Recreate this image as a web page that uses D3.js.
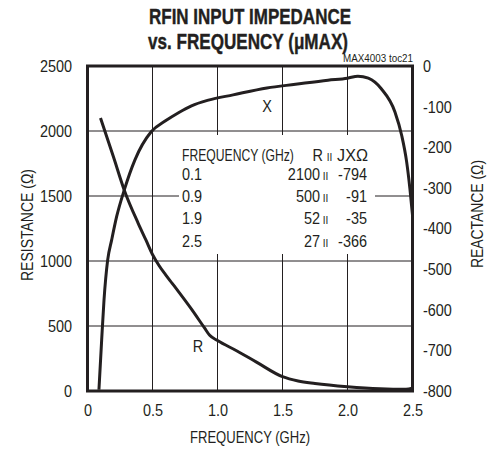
<!DOCTYPE html>
<html>
<head>
<meta charset="utf-8">
<script src="https://cdn.jsdelivr.net/npm/d3@7/dist/d3.min.js"></script>
<style>
  html, body { margin: 0; padding: 0; background: #fff; }
  svg { display: block; }
  text { font-family: "Liberation Sans", Arial, sans-serif; fill: #231f20; }
</style>
</head>
<body>
<svg id="chart" width="498" height="452"></svg>
<script>
// ---- data ----
const freqTicks = [0, 0.5, 1.0, 1.5, 2.0, 2.5];
const freqTickLabels = ["0", "0.5", "1.0", "1.5", "2.0", "2.5"];
const resistanceTicks = [0, 500, 1000, 1500, 2000, 2500];
const reactanceTicks = [0, -100, -200, -300, -400, -500, -600, -700, -800];

const rFreq = [0.1, 0.15, 0.2, 0.283, 0.39, 0.45, 0.5, 0.55, 0.6, 0.65, 0.7, 0.8, 0.9, 0.94, 1.0, 1.15, 1.3, 1.5, 1.62, 1.75, 2.0, 2.25, 2.45, 2.5];
const rValues = [2100, 1950, 1800, 1545, 1290, 1160, 1050, 965, 895, 830, 765, 630, 485, 428, 388, 308, 222, 110, 77, 58, 33, 17, 13, 22];

const xFreq = [0.088, 0.109, 0.127, 0.155, 0.186, 0.224, 0.283, 0.365, 0.49, 0.6, 0.7, 0.8, 0.93, 1.12, 1.38, 1.6, 1.85, 2.0, 2.08, 2.16, 2.26, 2.365, 2.417, 2.455, 2.48, 2.5];
const xValues = [-797, -674, -576, -478, -428, -371, -305, -231, -162, -135, -115, -98, -84, -71, -54, -45, -35, -30, -25, -30, -56, -113, -171, -236, -302, -367];

const tableFreq = ["0.1", "0.9", "1.9", "2.5"];
const tableR = ["2100", "500", "52", "27"];
const tableX = ["-794", "-91", "-35", "-366"];

// ---- layout ----
const svg = d3.select("#chart");
const L = 87.5, R = 412.5, T = 66, B = 391;
const ink = "#231f20";
const fs = 17, K = 0.85;

function condense(sel, k) {
  sel.each(function () {
    const t = d3.select(this);
    const xx = +t.attr("x") || 0;
    t.attr("transform", `translate(${xx},0) scale(${k},1) translate(${-xx},0)`);
  });
  return sel;
}

const x = d3.scaleLinear().domain([0, 2.5]).range([L, R]);
const yR = d3.scaleLinear().domain([0, 2500]).range([B, T]);
const yX = d3.scaleLinear().domain([-800, 0]).range([B, T]);

// grid
const grid = svg.append("g").attr("stroke", ink).attr("stroke-width", 1);
grid.selectAll("line.v").data(freqTicks.slice(1, -1)).join("line")
  .attr("x1", d => x(d)).attr("x2", d => x(d)).attr("y1", T).attr("y2", B);
grid.selectAll("line.h").data(resistanceTicks.slice(1, -1)).join("line")
  .attr("x1", L).attr("x2", R).attr("y1", d => yR(d)).attr("y2", d => yR(d));

// table background
svg.append("rect").attr("x", 179).attr("y", 135).attr("width", 196).attr("height", 119).attr("fill", "#fff");

// axes
const axL = svg.append("g").attr("transform", `translate(${L},0)`)
  .call(d3.axisLeft(yR).tickValues(resistanceTicks).tickSize(0).tickPadding(15.5).tickFormat(d3.format("d")));
const axR = svg.append("g").attr("transform", `translate(${R},0)`)
  .call(d3.axisRight(yX).tickValues(reactanceTicks).tickSize(0).tickPadding(10.5).tickFormat(d => String(d)));
const axB = svg.append("g").attr("transform", `translate(0,${B})`)
  .call(d3.axisBottom(x).tickValues(freqTicks).tickSize(0).tickPadding(13).tickFormat((d, i) => freqTickLabels[i]));
[axL, axR, axB].forEach(a => {
  a.select(".domain").remove();
  a.selectAll("text").attr("font-size", fs).attr("fill", ink)
    .style("font-family", '"Liberation Sans", Arial, sans-serif');
  condense(a.selectAll("text"), K);
});

// axis titles
svg.append("text").attr("x", 250).attr("y", 443).attr("text-anchor", "middle").attr("font-size", fs)
  .attr("textLength", 120).attr("lengthAdjust", "spacingAndGlyphs").text("FREQUENCY (GHz)");
svg.append("text").attr("transform", "translate(33,225) rotate(-90)").attr("text-anchor", "middle").attr("font-size", fs)
  .attr("textLength", 112).attr("lengthAdjust", "spacingAndGlyphs").text("RESISTANCE (Ω)");
svg.append("text").attr("transform", "translate(483,214) rotate(-90)").attr("text-anchor", "middle").attr("font-size", fs)
  .attr("textLength", 108).attr("lengthAdjust", "spacingAndGlyphs").text("REACTANCE (Ω)");

// title
svg.append("text").attr("x", 250).attr("y", 24).attr("text-anchor", "middle").attr("font-size", 22).attr("font-weight", "bold")
  .attr("stroke", ink).attr("stroke-width", 0.4)
  .attr("textLength", 202).attr("lengthAdjust", "spacingAndGlyphs").text("RFIN INPUT IMPEDANCE");
svg.append("text").attr("x", 248).attr("y", 49).attr("text-anchor", "middle").attr("font-size", 22).attr("font-weight", "bold")
  .attr("stroke", ink).attr("stroke-width", 0.4)
  .attr("textLength", 200).attr("lengthAdjust", "spacingAndGlyphs").text("vs. FREQUENCY (μMAX)");
svg.append("text").attr("x", 413).attr("y", 62).attr("text-anchor", "end").attr("font-size", 10)
  .attr("textLength", 70).attr("lengthAdjust", "spacingAndGlyphs").text("MAX4003 toc21");

// table
const tbl = svg.append("g").attr("font-size", fs);
condense(tbl.append("text").attr("x", 182).attr("y", 161).attr("font-size", 16).text("FREQUENCY (GHz)"), 0.76);
condense(tbl.append("text").attr("x", 323).attr("y", 161).attr("text-anchor", "end").text("R"), K);
tbl.append("text").attr("x", 329.5).attr("y", 161).attr("text-anchor", "middle").attr("font-size", 10).text("II");
condense(tbl.append("text").attr("x", 368).attr("y", 161).attr("text-anchor", "end").text("JXΩ"), 0.95);
const rowY = i => 180 + i * 22.2;
condense(tbl.selectAll("text.f").data(tableFreq).join("text").attr("class", "f")
  .attr("x", 182).attr("y", (d, i) => rowY(i)).text(d => d), K);
condense(tbl.selectAll("text.r").data(tableR).join("text").attr("class", "r")
  .attr("x", 320).attr("y", (d, i) => rowY(i)).attr("text-anchor", "end").text(d => d), K);
tbl.selectAll("text.p").data(tableR).join("text").attr("class", "p")
  .attr("x", 325.5).attr("y", (d, i) => rowY(i)).attr("text-anchor", "middle").attr("font-size", 10).text("II");
condense(tbl.selectAll("text.xv").data(tableX).join("text").attr("class", "xv")
  .attr("x", 367).attr("y", (d, i) => rowY(i)).attr("text-anchor", "end").text(d => d), K);

// curve labels
condense(svg.append("text").attr("x", 267).attr("y", 112).attr("text-anchor", "middle").attr("font-size", fs).text("X"), K);
condense(svg.append("text").attr("x", 198).attr("y", 352).attr("text-anchor", "middle").attr("font-size", fs).text("R"), K);

// curves
const lineR = d3.line().x(d => x(d[0])).y(d => yR(d[1])).curve(d3.curveMonotoneX);
const lineX = d3.line().x(d => x(d[0])).y(d => yX(d[1])).curve(d3.curveMonotoneX);
svg.append("path").datum(d3.zip(rFreq, rValues)).attr("d", lineR)
  .attr("fill", "none").attr("stroke", ink).attr("stroke-width", 3).attr("stroke-linejoin", "round");
svg.append("path").datum(d3.zip(xFreq, xValues)).attr("d", lineX)
  .attr("fill", "none").attr("stroke", ink).attr("stroke-width", 3).attr("stroke-linejoin", "round");

// frame
svg.append("rect").attr("x", L).attr("y", T).attr("width", R - L).attr("height", B - T)
  .attr("fill", "none").attr("stroke", ink).attr("stroke-width", 3);
</script>
</body>
</html>
